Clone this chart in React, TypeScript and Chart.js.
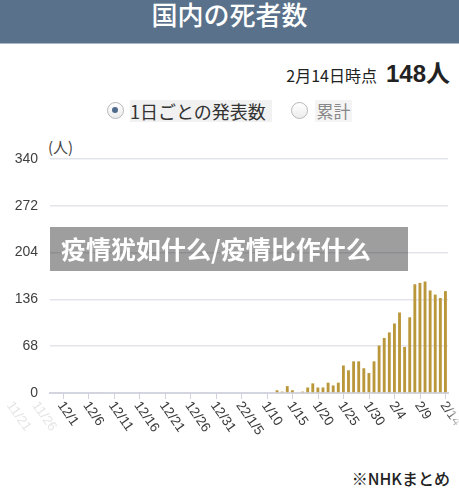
import React, { useEffect, useRef } from "react";
import { Chart, registerables } from "chart.js";

Chart.register(...registerables);

// ---- data ----
const novDates = ["11/29", "11/30"];
const decDates = [
  "12/1", "12/2", "12/3", "12/4", "12/5", "12/6", "12/7", "12/8", "12/9", "12/10",
  "12/11", "12/12", "12/13", "12/14", "12/15", "12/16", "12/17", "12/18", "12/19", "12/20",
  "12/21", "12/22", "12/23", "12/24", "12/25", "12/26", "12/27", "12/28", "12/29", "12/30", "12/31",
];
const janDates = [
  "1/1", "1/2", "1/3", "1/4", "1/5", "1/6", "1/7", "1/8", "1/9", "1/10",
  "1/11", "1/12", "1/13", "1/14", "1/15", "1/16", "1/17", "1/18", "1/19", "1/20",
  "1/21", "1/22", "1/23", "1/24", "1/25", "1/26", "1/27", "1/28", "1/29", "1/30", "1/31",
];
const febDates = [
  "2/1", "2/2", "2/3", "2/4", "2/5", "2/6", "2/7", "2/8", "2/9", "2/10", "2/11", "2/12", "2/13", "2/14",
];

const novDeaths = [0, 0];
const decDeaths = [
  0, 0, 0, 0, 0, 0, 0, 1, 0, 0,
  0, 0, 0, 0, 0, 1, 0, 0, 0, 0,
  0, 0, 0, 0, 0, 0, 0, 0, 1, 0, 0,
];
const janDeaths = [
  0, 0, 0, 0, 0, 0, 0, 0, 0, 0,
  0, 4, 2, 10, 4, 0, 2, 8, 14, 8,
  8, 15, 11, 15, 40, 33, 46, 46, 36, 29, 46,
];
const febDeaths = [69, 80, 88, 101, 117, 67, 110, 158, 160, 162, 149, 143, 138, 148];

const categories = [...novDates, ...decDates, ...janDates, ...febDates];
const deaths = [...novDeaths, ...decDeaths, ...janDeaths, ...febDeaths];

const tickCategories = [
  "12/1", "12/6", "12/11", "12/16", "12/21", "12/26", "12/31", "1/5",
  "1/10", "1/15", "1/20", "1/25", "1/30", "2/4", "2/9", "2/14",
];
const tickLabels = [
  "12/1", "12/6", "12/11", "12/16", "12/21", "12/26", "12/31", "22/1/5",
  "1/10", "1/15", "1/20", "1/25", "1/30", "2/4", "2/9", "2/14",
];
// labels of the scrolled-out part (days before 12/1)
const fadedTickLabels = ["11/21", "11/26"];
const fadedTickDaysBefore = [10, 5];

const yTicks = [0, 68, 136, 204, 272, 340];

const NUM_FONT = "'Liberation Sans', Arial, 'Noto Sans', sans-serif";
const JP_FONT = "'Noto Sans CJK JP', 'Noto Sans', sans-serif";

const dateTickPlugin = {
  id: "dateTicks",
  afterDraw(chart: any) {
    const ctx = chart.ctx as CanvasRenderingContext2D;
    const xs = chart.scales.x;
    const yb = chart.chartArea.bottom;
    const rot = (55 * Math.PI) / 180;
    ctx.save();
    ctx.font = `13.5px ${NUM_FONT}`;
    ctx.textAlign = "left";
    ctx.textBaseline = "middle";
    tickCategories.forEach((c, i) => {
      const idx = categories.indexOf(c);
      const px = xs.getPixelForValue(idx);
      ctx.strokeStyle = "#cfd2dc";
      ctx.lineWidth = 1;
      ctx.beginPath();
      ctx.moveTo(Math.round(px) + 0.5, yb);
      ctx.lineTo(Math.round(px) + 0.5, yb + 6);
      ctx.stroke();
      ctx.save();
      ctx.translate(px - 2.5, yb + 10);
      ctx.rotate(rot);
      ctx.fillStyle = "#3a3a3a";
      ctx.fillText(tickLabels[i], 0, 0);
      ctx.restore();
    });
    const base = categories.indexOf("12/1");
    fadedTickLabels.forEach((lab, i) => {
      const px = xs.getPixelForValue(base - fadedTickDaysBefore[i]);
      ctx.save();
      ctx.translate(px - 2.5, yb + 10);
      ctx.rotate(rot);
      ctx.fillStyle = "rgba(0,0,0,0.11)";
      ctx.fillText(lab, 0, 0);
      ctx.restore();
    });
    // right-edge fade
    const w = chart.width;
    const g = ctx.createLinearGradient(w - 12, 0, w, 0);
    g.addColorStop(0, "rgba(255,255,255,0)");
    g.addColorStop(1, "rgba(255,255,255,0.9)");
    ctx.fillStyle = g;
    ctx.fillRect(w - 12, yb + 2, 12, 60);
    ctx.restore();
  },
};

function DeathChart() {
  const ref = useRef<HTMLCanvasElement | null>(null);
  useEffect(() => {
    if (!ref.current) return;
    const chart = new Chart(ref.current, {
      type: "bar",
      data: {
        labels: categories,
        datasets: [
          {
            data: deaths,
            backgroundColor: "#b9973a",
            borderWidth: 0,
            barPercentage: 0.56,
            categoryPercentage: 1,
          },
        ],
      },
      options: {
        responsive: false,
        animation: false,
        devicePixelRatio: 1,
        layout: { padding: { top: 29, right: 11, left: 0, bottom: 0 } },
        plugins: { legend: { display: false }, tooltip: { enabled: false } },
        scales: {
          x: {
            offset: true,
            grid: { display: false },
            border: { display: true, color: "#d3d6e1", width: 2 },
            ticks: { display: false },
            afterFit: (s: any) => {
              s.height = 67;
            },
          },
          y: {
            min: 0,
            max: 340,
            afterBuildTicks: (s: any) => {
              s.ticks = yTicks.map((v) => ({ value: v }));
            },
            grid: { color: "#e4e5eb", lineWidth: 1.5, drawTicks: false },
            border: { display: false },
            ticks: {
              padding: 12,
              color: "#3f3f3f",
              font: { size: 14, family: NUM_FONT },
            },
            afterFit: (s: any) => {
              s.width = 50;
            },
          },
        },
      },
      plugins: [dateTickPlugin],
    });
    return () => chart.destroy();
  }, []);
  return (
    <canvas
      ref={ref}
      width={459}
      height={330}
      style={{ position: "absolute", left: 0, top: 130, width: 459, height: 330 }}
    />
  );
}

const radioBase: React.CSSProperties = {
  position: "absolute",
  width: 17,
  height: 17,
  borderRadius: "50%",
  border: "1.5px solid #b8b8b8",
  background: "linear-gradient(#ffffff, #ececec)",
  boxSizing: "border-box",
};

export default function App() {
  return (
    <div
      style={{
        position: "absolute",
        left: 0,
        top: 0,
        width: 459,
        height: 499,
        background: "#fff",
        overflow: "hidden",
        fontFamily: JP_FONT,
      }}
    >
      {/* header band */}
      <div
        style={{
          position: "absolute",
          left: 0,
          top: 0,
          width: 459,
          height: 43,
          background: "#59718a",
          borderBottom: "1px solid #a9b7c6",
        }}
      />
      <div
        style={{
          position: "absolute",
          left: 0,
          top: 1,
          width: 459,
          textAlign: "center",
          color: "#fff",
          fontSize: 26,
          lineHeight: "26px",
          fontWeight: 500,
        }}
      >
        国内の死者数
      </div>

      {/* as-of line */}
      <div
        style={{
          position: "absolute",
          right: 9,
          top: 54,
          display: "flex",
          alignItems: "baseline",
          color: "#222",
          whiteSpace: "nowrap",
        }}
      >
        <span style={{ fontSize: 16 }}>2月14日時点</span>
        <span style={{ fontSize: 24, fontWeight: 700, marginLeft: 9, fontFamily: `${NUM_FONT}` }}>
          148<span style={{ fontFamily: JP_FONT }}>人</span>
        </span>
      </div>

      {/* radio row */}
      <div style={{ ...radioBase, left: 107, top: 102 }}>
        <div
          style={{
            position: "absolute",
            left: 4,
            top: 4,
            width: 6,
            height: 6,
            borderRadius: "50%",
            background: "#4f6a8b",
          }}
        />
      </div>
      <div
        style={{
          position: "absolute",
          left: 130,
          top: 100,
          width: 142,
          height: 22,
          background: "#f1f1f1",
          fontSize: 18,
          lineHeight: "22px",
          color: "#333",
          whiteSpace: "nowrap",
        }}
      >
        1日ごとの発表数
      </div>
      <div style={{ ...radioBase, left: 291, top: 102 }} />
      <div
        style={{
          position: "absolute",
          left: 315,
          top: 100,
          width: 37,
          height: 22,
          background: "#f4f4f4",
          fontSize: 17,
          lineHeight: "22px",
          color: "#888",
          whiteSpace: "nowrap",
          textAlign: "center",
        }}
      >
        累計
      </div>

      {/* unit */}
      <div
        style={{
          position: "absolute",
          left: 48,
          top: 139,
          fontSize: 15,
          lineHeight: "16px",
          color: "#444",
          fontFamily: JP_FONT,
        }}
      >
        (人)
      </div>

      <DeathChart />

      {/* overlay banner */}
      <div
        style={{
          position: "absolute",
          left: 50,
          top: 227,
          width: 358,
          height: 44,
          background: "rgba(0,0,0,0.38)",
          color: "#fff",
          fontFamily: "'Noto Sans CJK SC', 'Noto Sans', sans-serif",
          fontWeight: 700,
          fontSize: 25,
          lineHeight: "42px",
          paddingLeft: 11,
          boxSizing: "border-box",
          whiteSpace: "nowrap",
        }}
      >
        疫情犹如什么/疫情比作什么
      </div>

      {/* source */}
      <div
        style={{
          position: "absolute",
          right: 9,
          top: 469,
          fontSize: 16,
          lineHeight: "18px",
          fontWeight: 500,
          color: "#222",
          whiteSpace: "nowrap",
        }}
      >
        ※NHKまとめ
      </div>
    </div>
  );
}
